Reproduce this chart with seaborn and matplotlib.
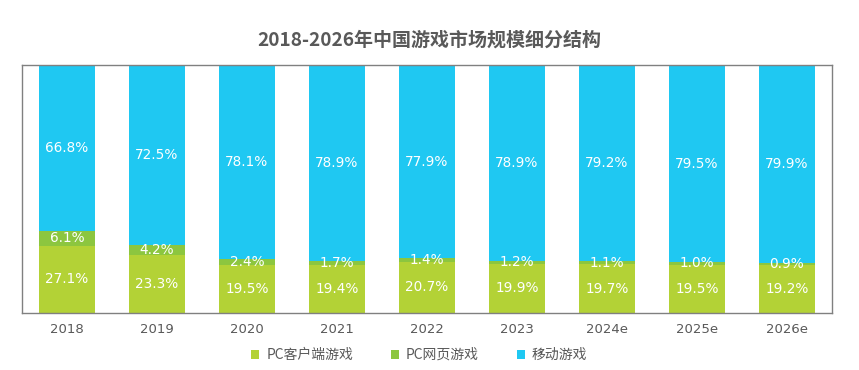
import matplotlib
matplotlib.use("Agg")
import matplotlib.pyplot as plt
import seaborn as sns
import numpy as np
import pandas as pd
from matplotlib.patches import Patch

years = ["2018", "2019", "2020", "2021", "2022", "2023", "2024e", "2025e", "2026e"]
pc_client = [27.1, 23.3, 19.5, 19.4, 20.7, 19.9, 19.7, 19.5, 19.2]
pc_web = [6.1, 4.2, 2.4, 1.7, 1.4, 1.2, 1.1, 1.0, 0.9]
mobile = [66.8, 72.5, 78.1, 78.9, 77.9, 78.9, 79.2, 79.5, 79.9]
series_names = ["PC客户端游戏", "PC网页游戏", "移动游戏"]
colors = ["#b3d236", "#8cc63f", "#1fc8f2"]

sns.set_theme(style="white")
plt.rcParams['font.family'] = ['Noto Sans CJK SC', 'DejaVu Sans']

fig = plt.figure(figsize=(8.59, 3.70), dpi=100)
ax = fig.add_axes([22/859, 1-313/370, (832-22)/859, (313-65)/370])

df = pd.DataFrame({"year": years, "c": pc_client, "w": pc_web, "m": mobile})
bottom = np.zeros(len(years))
for col, name, colr in zip(["c", "w", "m"], series_names, colors):
    vals = df[col].to_numpy()
    sns.barplot(x=df["year"], y=vals, bottom=bottom, color=colr, width=0.62,
                saturation=1, ax=ax, edgecolor="none", linewidth=0)
    for i, v in enumerate(vals):
        ax.text(i, bottom[i] + v / 2, f"{v:.1f}%", ha="center", va="center",
                color="white", fontsize=9.8, family="DejaVu Sans")
    bottom = bottom + vals

ax.set_ylim(0, 100)
ax.set_xlim(-0.5, len(years) - 0.5)
ax.set_yticks([])
ax.set_xlabel("")
ax.set_ylabel("")
for s in ax.spines.values():
    s.set_visible(True)
    s.set_color("#808080")
    s.set_linewidth(1)
ax.tick_params(axis="x", length=0, pad=7, labelsize=10, labelcolor="#595959")
for lbl in ax.get_xticklabels():
    lbl.set_family("DejaVu Sans")
    lbl.set_fontsize(9.5)

fig.text(0.5, 1-40/370, "2018-2026年中国游戏市场规模细分结构", ha="center", va="center",
         fontsize=13.7, fontweight="bold", color="#595959")

handles = [Patch(facecolor=c, edgecolor="none") for c in colors]
fig.legend(handles, series_names, loc="center", bbox_to_anchor=(0.488, 1-355/370),
           ncol=3, frameon=False, fontsize=10, handlelength=0.6, handleheight=0.6,
           columnspacing=2.7, handletextpad=0.5, labelcolor="#595959")

fig.savefig("out.png", dpi=100)
